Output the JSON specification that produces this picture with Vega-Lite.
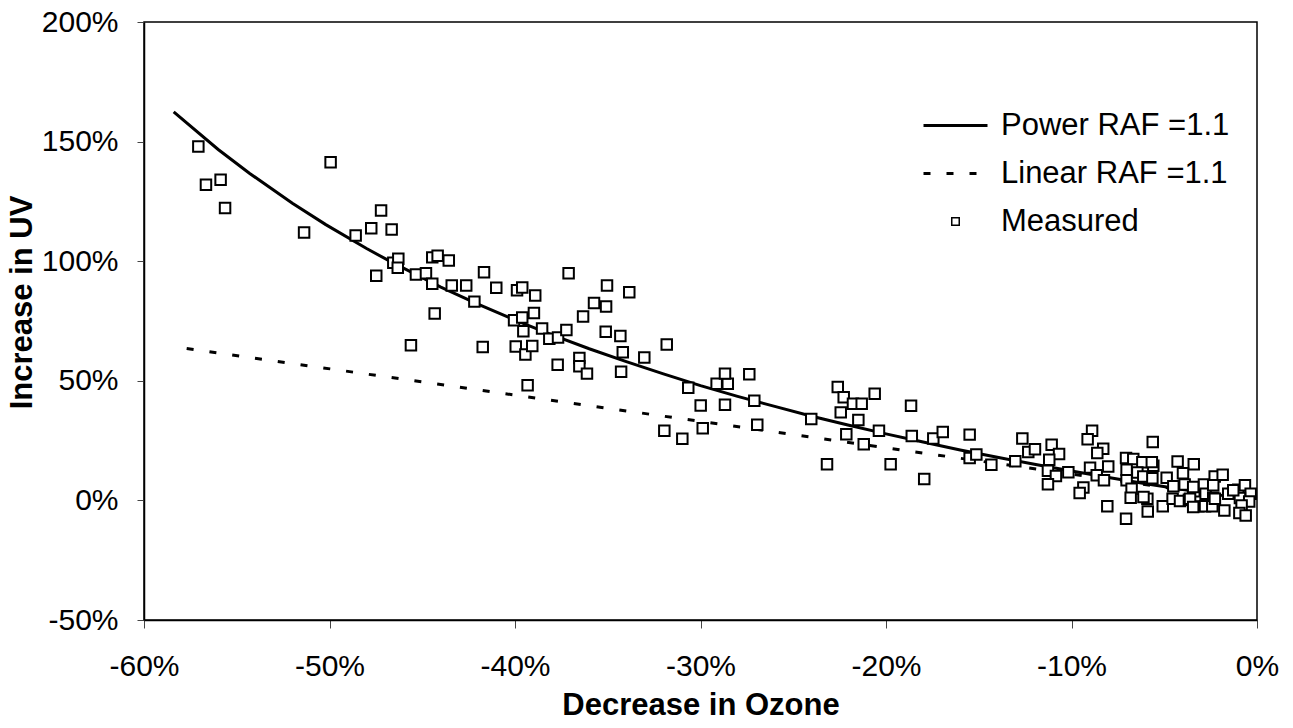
{
  "$schema": "https://vega.github.io/schema/vega-lite/v6.json",
  "width": 1113,
  "height": 598,
  "autosize": {"type": "none"},
  "padding": {"left": 144, "top": 22, "right": 36, "bottom": 108},
  "background": "white",
  "config": {
    "font": "Liberation Sans",
    "view": {"stroke": "black", "strokeWidth": 1.5},
    "axis": {
      "grid": false,
      "domainColor": "black",
      "domainWidth": 1.5,
      "tickColor": "#444",
      "tickWidth": 1,
      "tickSize": 8,
      "labelFont": "Liberation Sans",
      "labelFontSize": 30,
      "labelColor": "black",
      "labelFlush": false,
      "labelOverlap": false,
      "titleFont": "Liberation Sans",
      "titleFontSize": 31,
      "titleFontWeight": "bold",
      "titleColor": "black"
    }
  },
  "datasets": {
    "power": [
      {"x": -58.4, "y": 162.4}, {"x": -56, "y": 146.7}, {"x": -54.3, "y": 136.7},
      {"x": -52, "y": 124.2}, {"x": -50.2, "y": 115.3}, {"x": -48, "y": 105.3},
      {"x": -46.7, "y": 99.8}, {"x": -44, "y": 89.2}, {"x": -42, "y": 82.1},
      {"x": -40, "y": 75.4}, {"x": -38, "y": 69.2}, {"x": -36, "y": 63.4},
      {"x": -34, "y": 58.0}, {"x": -32, "y": 52.9}, {"x": -30, "y": 48.0},
      {"x": -28, "y": 43.5}, {"x": -26, "y": 39.3}, {"x": -24, "y": 35.2},
      {"x": -22, "y": 31.4}, {"x": -20, "y": 27.8}, {"x": -18, "y": 24.4},
      {"x": -16, "y": 21.1}, {"x": -14, "y": 18.0}, {"x": -12, "y": 15.1},
      {"x": -10, "y": 12.3}, {"x": -8, "y": 9.6}, {"x": -6, "y": 7.0},
      {"x": -4, "y": 4.6}, {"x": -2, "y": 2.2}, {"x": -0.5, "y": 0.55}
    ],
    "linear": [
      {"x": -57.7, "y": 63.5}, {"x": -0.5, "y": 0.55}
    ],
    "measured": [
      {"x": -57.07, "y": 148.0}, {"x": -56.66, "y": 132.0}, {"x": -55.87, "y": 134.1}, {"x": -55.63, "y": 122.2},
      {"x": -49.94, "y": 141.4}, {"x": -51.37, "y": 112.0}, {"x": -48.59, "y": 110.7}, {"x": -47.22, "y": 121.2},
      {"x": -47.75, "y": 113.8}, {"x": -46.65, "y": 113.3}, {"x": -46.56, "y": 99.4}, {"x": -46.29, "y": 101.0},
      {"x": -46.32, "y": 97.3}, {"x": -47.48, "y": 93.9}, {"x": -45.34, "y": 94.4}, {"x": -44.8, "y": 95.0},
      {"x": -44.46, "y": 90.6}, {"x": -44.46, "y": 101.6}, {"x": -44.17, "y": 102.3}, {"x": -43.57, "y": 100.3},
      {"x": -44.33, "y": 78.1}, {"x": -43.41, "y": 89.8}, {"x": -42.63, "y": 89.8}, {"x": -42.19, "y": 83.1},
      {"x": -41.67, "y": 95.4}, {"x": -41.01, "y": 88.9}, {"x": -39.89, "y": 87.9}, {"x": -39.61, "y": 89.0},
      {"x": -38.91, "y": 85.7}, {"x": -40.05, "y": 75.3}, {"x": -39.61, "y": 76.5}, {"x": -38.98, "y": 78.3},
      {"x": -39.55, "y": 70.7}, {"x": -38.54, "y": 71.9}, {"x": -45.61, "y": 64.9}, {"x": -41.74, "y": 64.1},
      {"x": -39.96, "y": 64.3}, {"x": -39.44, "y": 61.0}, {"x": -39.07, "y": 64.5}, {"x": -39.32, "y": 48.1},
      {"x": -38.15, "y": 67.6}, {"x": -37.68, "y": 68.1}, {"x": -37.23, "y": 71.2}, {"x": -37.11, "y": 95.0},
      {"x": -37.7, "y": 56.7}, {"x": -36.53, "y": 59.5}, {"x": -36.53, "y": 56.1}, {"x": -36.12, "y": 53.0},
      {"x": -36.33, "y": 76.9}, {"x": -35.74, "y": 82.5}, {"x": -35.09, "y": 81.1}, {"x": -35.04, "y": 89.8},
      {"x": -33.84, "y": 87.0}, {"x": -35.11, "y": 70.5}, {"x": -34.32, "y": 68.7}, {"x": -34.19, "y": 61.9},
      {"x": -33.03, "y": 59.7}, {"x": -34.28, "y": 53.8}, {"x": -31.82, "y": 65.2}, {"x": -30.66, "y": 47.1},
      {"x": -29.13, "y": 48.8}, {"x": -28.53, "y": 48.8}, {"x": -28.68, "y": 53.0}, {"x": -27.37, "y": 52.7},
      {"x": -29.99, "y": 39.7}, {"x": -28.68, "y": 40.0}, {"x": -27.1, "y": 41.7}, {"x": -31.95, "y": 29.1},
      {"x": -30.98, "y": 25.8}, {"x": -29.88, "y": 30.2}, {"x": -26.94, "y": 31.6}, {"x": -24.03, "y": 34.0},
      {"x": -23.18, "y": 15.1}, {"x": -22.6, "y": 47.4}, {"x": -22.28, "y": 43.1}, {"x": -21.78, "y": 40.4},
      {"x": -21.31, "y": 40.4}, {"x": -20.61, "y": 44.6}, {"x": -22.44, "y": 36.8}, {"x": -21.49, "y": 33.6},
      {"x": -22.14, "y": 27.7}, {"x": -21.2, "y": 23.5}, {"x": -20.38, "y": 29.1}, {"x": -19.75, "y": 15.1},
      {"x": -18.65, "y": 39.6}, {"x": -18.61, "y": 26.9}, {"x": -17.94, "y": 8.9}, {"x": -17.45, "y": 25.9},
      {"x": -16.94, "y": 28.6}, {"x": -15.49, "y": 27.5}, {"x": -15.49, "y": 17.7}, {"x": -15.13, "y": 19.2},
      {"x": -14.32, "y": 14.9}, {"x": -13.03, "y": 16.4}, {"x": -12.65, "y": 25.9}, {"x": -12.33, "y": 20.2},
      {"x": -11.97, "y": 21.4}, {"x": -11.07, "y": 23.3}, {"x": -10.67, "y": 19.4}, {"x": -11.2, "y": 17.0},
      {"x": -11.27, "y": 12.4}, {"x": -10.84, "y": 10.2}, {"x": -11.27, "y": 6.8}, {"x": -10.17, "y": 11.8},
      {"x": -9.36, "y": 5.4}, {"x": -9.56, "y": 3.1}, {"x": -8.89, "y": 29.1}, {"x": -9.13, "y": 25.6},
      {"x": -8.29, "y": 21.6}, {"x": -8.61, "y": 19.8}, {"x": -9.0, "y": 13.7}, {"x": -8.02, "y": 14.2},
      {"x": -8.64, "y": 10.5}, {"x": -8.25, "y": 8.4}, {"x": -8.07, "y": -2.4}, {"x": -5.62, "y": 24.4},
      {"x": -7.06, "y": 17.7}, {"x": -6.67, "y": 17.3}, {"x": -6.18, "y": 15.9}, {"x": -5.59, "y": 14.5},
      {"x": -6.45, "y": 11.7}, {"x": -7.03, "y": 8.4}, {"x": -6.76, "y": 4.9}, {"x": -6.13, "y": 10.0},
      {"x": -5.64, "y": 9.3}, {"x": -4.87, "y": 9.5}, {"x": -6.81, "y": 1.1}, {"x": -5.91, "y": 0.7},
      {"x": -5.89, "y": -4.6}, {"x": -7.06, "y": -7.7}, {"x": -5.08, "y": -2.4}, {"x": -4.28, "y": 16.3},
      {"x": -3.41, "y": 15.1}, {"x": -3.99, "y": 11.4}, {"x": -4.51, "y": 5.9}, {"x": -3.9, "y": 6.6},
      {"x": -4.55, "y": 0.7}, {"x": -4.15, "y": -0.3}, {"x": -3.67, "y": 0.3}, {"x": -3.38, "y": 3.8},
      {"x": -2.86, "y": 6.6}, {"x": -2.28, "y": 10.0}, {"x": -1.85, "y": 10.7}, {"x": -2.77, "y": 2.8},
      {"x": -2.36, "y": 1.1}, {"x": -3.16, "y": -2.5}, {"x": -2.8, "y": -2.4}, {"x": -2.41, "y": -2.4},
      {"x": -1.76, "y": -4.2}, {"x": -1.55, "y": 2.8}, {"x": -1.01, "y": 4.5}, {"x": -0.65, "y": 6.3},
      {"x": -0.34, "y": 2.8}, {"x": -0.92, "y": 1.0}, {"x": -0.42, "y": -0.5}, {"x": -0.83, "y": -2.1},
      {"x": -0.95, "y": -5.3}, {"x": -0.61, "y": -6.3}, {"x": -1.28, "y": 4.2}, {"x": -5.67, "y": 16.0},
      {"x": -3.44, "y": 5.6}, {"x": -2.36, "y": 6.3}, {"x": -3.61, "y": 0.7}, {"x": -2.27, "y": 0.7},
      {"x": -3.44, "y": -2.8}, {"x": -6.12, "y": 1.4}, {"x": -7.03, "y": 12.8}
    ]
  },
  "encoding": {
    "x": {
      "field": "x",
      "type": "quantitative",
      "scale": {"domain": [-60, 0], "nice": false, "zero": false},
      "axis": {
        "title": "Decrease in Ozone",
        "values": [-60, -50, -40, -30, -20, -10, 0],
        "labelExpr": "datum.value + '%'",
        "labelPadding": 23,
        "titleY": 85,
        "titleBaseline": "middle"
      }
    },
    "y": {
      "field": "y",
      "type": "quantitative",
      "scale": {"domain": [-50, 200], "nice": false, "zero": false},
      "axis": {
        "title": "Increase in UV",
        "values": [-50, 0, 50, 100, 150, 200],
        "labelExpr": "datum.value + '%'",
        "tickSize": 7,
        "labelPadding": 19,
        "titleX": -122,
        "titleY": 280,
        "titleAngle": -90,
        "titleAlign": "center",
        "titleBaseline": "middle"
      }
    }
  },
  "layer": [
    {
      "data": {"name": "power"},
      "mark": {"type": "line", "strokeWidth": 3},
      "encoding": {
        "stroke": {
          "datum": "Power RAF =1.1",
          "type": "nominal",
          "scale": {
            "domain": ["Power RAF =1.1", "Linear RAF =1.1", "Measured"],
            "range": ["black", "black", "black"]
          },
          "legend": {
            "title": null,
            "orient": "none",
            "legendX": 779,
            "legendY": 88,
            "padding": 0,
            "symbolSize": 4096,
            "symbolOffset": 17,
            "labelFont": "Liberation Sans",
            "labelFontSize": 31,
            "labelColor": "black",
            "labelLimit": 0,
            "labelOffset": 30,
            "rowPadding": 16,
            "encode": {
              "symbols": {
                "update": {
                  "shape": {"signal": "datum.value === 'Measured' ? 'square' : 'stroke'"},
                  "size": {"signal": "datum.value === 'Measured' ? 56 : 4096"},
                  "strokeDash": {"signal": "datum.value === 'Linear RAF =1.1' ? [7, 16] : [1, 0]"},
                  "strokeWidth": {"signal": "datum.value === 'Measured' ? 1.5 : 3"},
                  "stroke": {"value": "black"},
                  "fill": {"signal": "datum.value === 'Measured' ? 'white' : 'transparent'"},
                  "opacity": {"value": 1}
                }
              }
            }
          }
        }
      }
    },
    {
      "data": {"name": "linear"},
      "mark": {"type": "line", "strokeWidth": 3, "strokeDash": [7, 16]},
      "encoding": {
        "stroke": {"datum": "Linear RAF =1.1", "type": "nominal"}
      }
    },
    {
      "data": {"name": "measured"},
      "mark": {"type": "point", "shape": "square", "filled": true, "fill": "white", "strokeWidth": 2, "size": 110, "opacity": 1},
      "encoding": {
        "stroke": {"datum": "Measured", "type": "nominal"}
      }
    }
  ]
}
